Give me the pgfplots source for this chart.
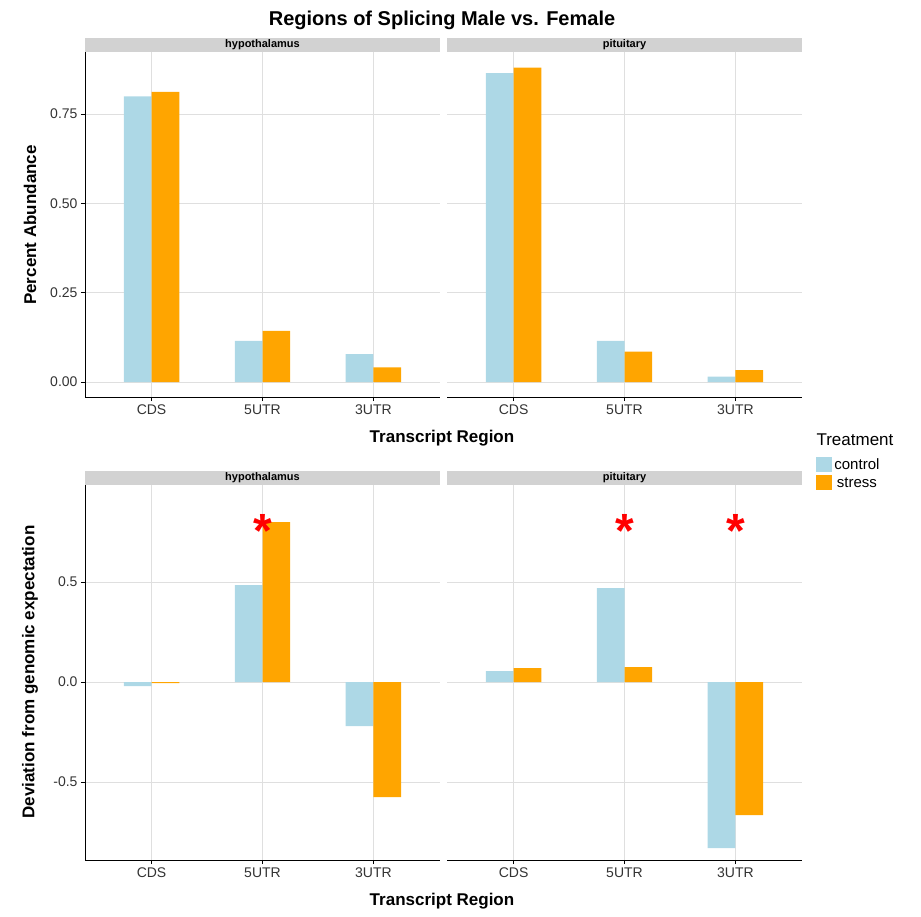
\documentclass[border=0pt]{standalone}
\usepackage{pgfplots}
\pgfplotsset{compat=1.18}
\usepackage{fontspec}
\setmainfont{Liberation Sans}
\setsansfont{Liberation Sans}
\definecolor{ctrl}{HTML}{ADD8E6}
\definecolor{strs}{HTML}{FFA500}
\pgfplotsset{
  panel/.style={scale only axis, width=355pt, xmin=-0.6, xmax=2.6,
    xtick={0,1,2}, xticklabels={CDS,5UTR,3UTR},
    grid=major, major grid style={gray!25, line width=0.8pt},
    axis x line*=bottom, axis y line*=left,
    axis line style={line width=0.8pt},
    tick style={black, line width=0.8pt}, tick align=outside, major tick length=4pt,
    tick label style={font=\fontsize{14}{16}\selectfont, black!80},
    /pgf/number format/assume math mode=true,
    ybar, bar width=0.25, clip=false},
  noy/.style={yticklabels={}, y axis line style={draw=none}, ytick style={draw=none}},
  cbar/.style={fill=ctrl, draw=none, bar shift=-0.125},
  sbar/.style={fill=strs, draw=none, bar shift=0.125},
}
\begin{document}
\begin{tikzpicture}[x=1pt,y=1pt]
\path (0pt,0pt) rectangle (921pt,-916pt);
\node[font=\fontsize{20}{24}\selectfont\bfseries] at (442pt,-20pt) {Regions of Splicing Male vs. Female};
% top left
\begin{axis}[panel, at={(85pt,-397pt)}, anchor=south west, height=345pt, ymin=-0.042, ymax=0.924,
  ytick={0,0.25,0.5,0.75}, yticklabel style={/pgf/number format/fixed, /pgf/number format/fixed zerofill, /pgf/number format/precision=2}]
\addplot[cbar] coordinates {(0,0.80) (1,0.115) (2,0.078)};
\addplot[sbar] coordinates {(0,0.812) (1,0.143) (2,0.041)};
\fill[gray!35] (rel axis cs:0,1) rectangle ([yshift=14pt]rel axis cs:1,1);
\node[font=\fontsize{11}{12}\selectfont\bfseries] at ([yshift=7pt]rel axis cs:0.5,1) {hypothalamus};
\end{axis}
% top right
\begin{axis}[panel, noy, at={(447pt,-397pt)}, anchor=south west, height=345pt, ymin=-0.042, ymax=0.924,
  ytick={0,0.25,0.5,0.75}]
\addplot[cbar] coordinates {(0,0.865) (1,0.115) (2,0.015)};
\addplot[sbar] coordinates {(0,0.88) (1,0.085) (2,0.033)};
\fill[gray!35] (rel axis cs:0,1) rectangle ([yshift=14pt]rel axis cs:1,1);
\node[font=\fontsize{11}{12}\selectfont\bfseries] at ([yshift=7pt]rel axis cs:0.5,1) {pituitary};
\end{axis}
% bottom left
\begin{axis}[panel, at={(85pt,-860pt)}, anchor=south west, height=375pt, ymin=-0.89, ymax=0.985,
  ytick={-0.5,0,0.5}, yticklabel style={/pgf/number format/fixed, /pgf/number format/fixed zerofill, /pgf/number format/precision=1}]
\addplot[cbar] coordinates {(0,-0.02) (1,0.485) (2,-0.22)};
\addplot[sbar] coordinates {(0,-0.005) (1,0.80) (2,-0.575)};
\fill[gray!35] (rel axis cs:0,1) rectangle ([yshift=14pt]rel axis cs:1,1);
\node[font=\fontsize{11}{12}\selectfont\bfseries] at ([yshift=7pt]rel axis cs:0.5,1) {hypothalamus};
\node[red, font=\fontsize{48}{48}\selectfont\bfseries] at (axis cs:1,0.755) {*};
\end{axis}
% bottom right
\begin{axis}[panel, noy, at={(447pt,-860pt)}, anchor=south west, height=375pt, ymin=-0.89, ymax=0.985,
  ytick={-0.5,0,0.5},
  legend style={at={(rel axis cs:1.04,1.075)}, anchor=north west, draw=none, fill=none,
    font=\fontsize{15}{17}\selectfont, row sep=2pt, inner sep=0pt},
  legend image code/.code={\fill[#1] (0pt,-7pt) rectangle (16pt,8pt);}]
\addplot[cbar] coordinates {(0,0.055) (1,0.47) (2,-0.83)};
\addplot[sbar] coordinates {(0,0.07) (1,0.075) (2,-0.665)};
\legend{control,stress}
\fill[gray!35] (rel axis cs:0,1) rectangle ([yshift=14pt]rel axis cs:1,1);
\node[font=\fontsize{11}{12}\selectfont\bfseries] at ([yshift=7pt]rel axis cs:0.5,1) {pituitary};
\node[red, font=\fontsize{48}{48}\selectfont\bfseries] at (axis cs:1,0.755) {*};
\node[red, font=\fontsize{48}{48}\selectfont\bfseries] at (axis cs:2,0.755) {*};
\end{axis}
\node[font=\fontsize{17}{20}\selectfont\bfseries] at (442pt,-438pt) {Transcript Region};
\node[font=\fontsize{17}{20}\selectfont\bfseries] at (442pt,-901pt) {Transcript Region};
\node[font=\fontsize{17}{20}\selectfont\bfseries, rotate=90] at (30pt,-225pt) {Percent Abundance};
\node[font=\fontsize{17}{20}\selectfont\bfseries, rotate=90] at (30pt,-672pt) {Deviation from genomic expectation};
\node[font=\fontsize{17}{20}\selectfont, anchor=west] at (813pt,-440pt) {Treatment};
\end{tikzpicture}
\end{document}
